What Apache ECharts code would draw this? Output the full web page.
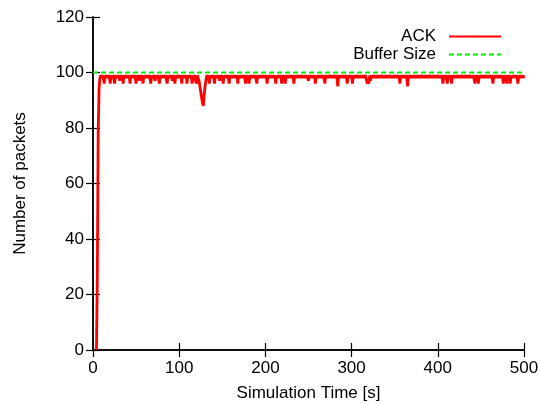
<!DOCTYPE html>
<html><head><meta charset="utf-8">
<script src="https://cdn.jsdelivr.net/npm/echarts@6/dist/echarts.min.js"></script>
<style>html,body{margin:0;padding:0;background:#fff}#c{width:540px;height:403px}</style>
</head><body><div id="c"></div>
<script>
// x axis: simulation time in seconds, one sample per second
const timeStep = 1;
const xTickValues = [0, 100, 200, 300, 400, 500];
const yTickValues = [0, 20, 40, 60, 80, 100, 120];

// ACK (packets) sampled at t = 0,1,2,...,500 s
const ackValues = [
  null,null,null,null,0,26,78,94,98,99,98,99,98,96,99,98,99,98,99,98,
  96,99,98,99,98,96,99,98,99,98,99,97,99,98,99,96,99,98,99,98,
  99,98,99,96,99,98,99,98,99,98,96,99,98,99,97,99,98,99,96,99,
  98,99,98,99,98,99,98,96,99,98,99,98,97,99,98,99,98,96,99,98,
  99,98,99,98,99,98,96,99,98,99,98,99,97,99,98,96,99,98,99,98,
  99,98,99,96,99,98,99,98,99,96,99,98,99,98,99,96,99,98,99,97,
  96,99,98,97,95,93,91,89,88,92,95,97,99,98,99,96,99,98,99,98,
  99,96,99,98,99,98,99,97,99,98,99,96,99,98,99,98,99,98,96,99,
  98,99,98,99,98,99,98,99,96,99,98,99,98,99,98,99,98,96,99,98,
  99,96,99,98,99,98,99,98,99,98,96,99,98,99,98,99,98,99,98,99,
  98,99,96,99,98,99,98,99,98,99,98,99,96,99,98,99,98,99,98,96,
  99,98,99,96,99,98,99,98,99,98,99,98,99,96,99,98,99,98,99,98,
  99,98,99,98,99,98,99,98,99,98,97,99,98,99,98,99,98,99,96,99,
  98,99,98,99,98,99,98,99,98,96,99,98,99,98,99,98,99,98,99,98,
  99,98,99,98,95,99,98,99,98,99,98,99,98,99,98,96,99,98,99,98,
  99,96,99,98,99,98,99,98,99,98,99,98,99,98,99,98,99,98,96,97,
  96,99,97,99,98,99,98,99,98,99,98,99,98,99,98,99,98,99,98,99,
  98,99,98,99,98,99,98,99,98,99,98,99,98,99,98,99,96,99,98,99,
  98,99,98,99,98,95,99,98,99,98,99,98,99,98,99,98,99,98,99,98,
  99,98,99,98,99,98,99,98,99,98,99,98,99,98,99,98,99,98,99,98,
  99,98,99,98,99,98,96,99,98,99,98,96,99,98,99,98,96,99,98,99,
  98,99,98,99,98,99,98,99,98,99,98,99,98,99,98,99,98,99,98,99,
  98,99,98,96,99,98,99,96,99,98,99,98,99,98,99,98,99,98,99,98,
  99,98,99,98,96,99,98,99,98,99,98,99,98,99,98,99,96,99,98,99,
  96,99,98,99,96,99,98,99,98,99,98,99,98,96,99,98,99,98,99,98,
  99
];

// Buffer size (packets)
const bufferTimes = [0, 500];
const bufferValues = [100, 100];

const ackData = ackValues
  .map((v, i) => [i * timeStep, v])
  .filter(p => p[1] !== null);
const bufferData = bufferTimes.map((t, i) => [t, bufferValues[i]]);

const FONT = 'Liberation Sans, Arial, Helvetica, sans-serif';
const axisLine = { show: true, lineStyle: { color: '#000', width: 1.5 } };
const tick = { show: true, inside: true, length: 7, lineStyle: { color: '#000', width: 1.2 } };

const chart = echarts.init(document.getElementById('c'), null, { renderer: 'canvas' });
chart.setOption({
  animation: false,
  backgroundColor: '#fff',
  grid: { left: 93, right: 16, top: 17, bottom: 53, containLabel: false, outerBoundsMode: 'none' },
  legend: {
    orient: 'vertical',
    right: 33,
    top: 23,
    align: 'right',
    itemWidth: 52,
    itemHeight: 14,
    itemGap: 1,
    itemStyle: { opacity: 0 },
    textStyle: { fontFamily: FONT, fontSize: 17, color: '#000', padding: [0, 8, 0, 0] },
    data: ['ACK', 'Buffer Size']
  },
  xAxis: [
    {
      type: 'value', min: 0, max: 500, interval: 100, position: 'bottom',
      axisLine, axisTick: tick, splitLine: { show: false },
      axisLabel: { fontFamily: FONT, fontSize: 17, color: '#000', margin: 10 },
      name: 'Simulation Time [s]', nameLocation: 'middle', nameGap: 35,
      nameTextStyle: { fontFamily: FONT, fontSize: 17, color: '#000' }
    },
    {
      type: 'value', min: 0, max: 500, interval: 100, position: 'top',
      axisLine, axisTick: tick, splitLine: { show: false }, axisLabel: { show: false }
    }
  ],
  yAxis: [
    {
      type: 'value', min: 0, max: 120, interval: 20, position: 'left',
      axisLine, axisTick: tick, splitLine: { show: false },
      axisLabel: { fontFamily: FONT, fontSize: 17, color: '#000', margin: 9 },
      name: 'Number of packets', nameLocation: 'middle', nameGap: 64,
      nameTextStyle: { fontFamily: FONT, fontSize: 17, color: '#000' }
    },
    {
      type: 'value', min: 0, max: 120, interval: 20, position: 'right',
      axisLine, axisTick: tick, splitLine: { show: false }, axisLabel: { show: false }
    }
  ],
  series: [
    {
      name: 'ACK', type: 'line', data: ackData, xAxisIndex: 0, yAxisIndex: 0,
      showSymbol: false, symbol: 'none', sampling: null,
      lineStyle: { color: '#ff0000', width: 2.8 }, itemStyle: { color: '#ff0000' }, z: 3
    },
    {
      name: 'Buffer Size', type: 'line', data: bufferData, xAxisIndex: 0, yAxisIndex: 0,
      showSymbol: false, symbol: 'none',
      lineStyle: { color: '#00ee00', width: 2, type: [5, 3] }, itemStyle: { color: '#00ee00' }, z: 2
    }
  ]
});
</script>
</body></html>
